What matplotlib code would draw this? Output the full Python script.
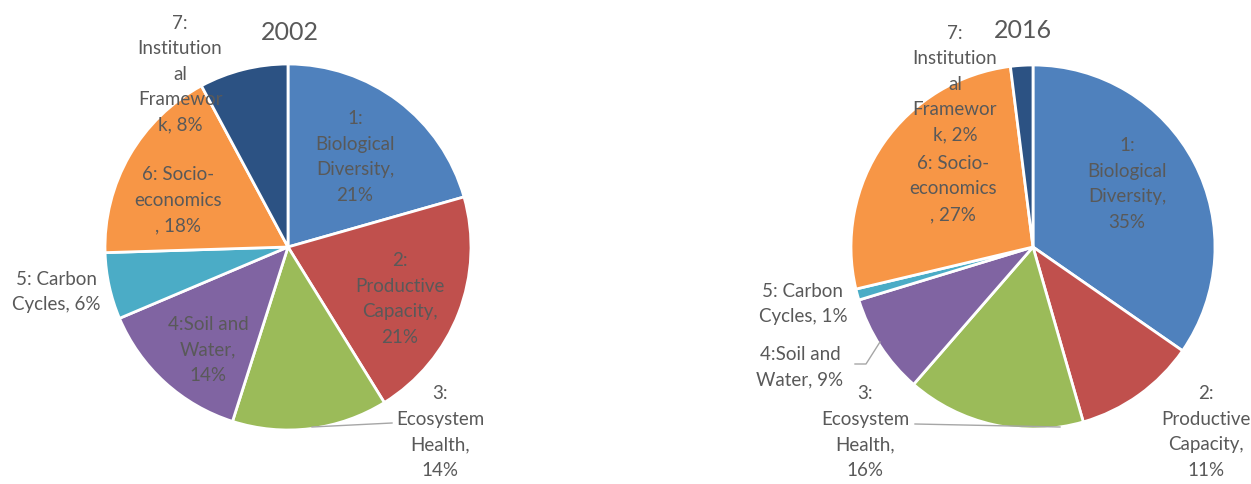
import matplotlib.pyplot as plt

plt.rcParams['font.family'] = ['Lato', 'DejaVu Sans']

# data
years = ['2002', '2016']
labels_2002 = ['1:\nBiological\nDiversity,\n21%', '2:\nProductive\nCapacity,\n21%',
               '3:\nEcosystem\nHealth,\n14%', '4:Soil and\nWater,\n14%',
               '5: Carbon\nCycles, 6%', '6: Socio-\neconomics\n, 18%',
               '7:\nInstitution\nal\nFramewor\nk, 8%']
values_2002 = [21, 21, 14, 14, 6, 18, 8]
labels_2016 = ['1:\nBiological\nDiversity,\n35%', '2:\nProductive\nCapacity,\n11%',
               '3:\nEcosystem\nHealth,\n16%', '4:Soil and\nWater, 9%',
               '5: Carbon\nCycles, 1%', '6: Socio-\neconomics\n, 27%',
               '7:\nInstitution\nal\nFramewor\nk, 2%']
values_2016 = [35, 11, 16, 9, 1, 27, 2]

colors = ['#4F81BD', '#C0504D', '#9BBB59', '#8064A2', '#4BACC6', '#F79646', '#2C5283']
text_col = '#595959'

W, H = 1251, 485
fig = plt.figure(figsize=(W / 100, H / 100), dpi=100)
ax = fig.add_axes([0, 0, 1, 1])

# layout in pixel coords (y from top)
pies = [
    dict(vals=values_2002, labs=labels_2002, title=years[0], c=(288, 248), r=183,
         title_xy=(290, 33),
         lab_xy=[(355, 157), (400, 299), (440, 432), (208, 350), (56, 292), (178, 200), (180, 74)],
         leaders=[[(312, 428), (392, 424)]]),
    dict(vals=values_2016, labs=labels_2016, title=years[1], c=(1033, 248), r=182,
         title_xy=(1023, 30),
         lab_xy=[(1127, 184), (1206, 432), (865, 432), (800, 367), (803, 304), (953, 189), (955, 84)],
         leaders=[[(915, 425), (1060, 428)], [(855, 365), (866, 365), (880, 343)]]),
]

for p in pies:
    cx, cy = p['c']
    ax.pie(p['vals'], colors=colors, startangle=90, counterclock=False,
           center=(cx, H - cy), radius=p['r'],
           wedgeprops=dict(edgecolor='white', linewidth=2))
    for lab, (x, y) in zip(p['labs'], p['lab_xy']):
        ax.text(x, H - y, lab, ha='center', va='center', fontsize=13.5,
                color=text_col, linespacing=1.6)
    for pts in p['leaders']:
        ax.plot([q[0] for q in pts], [H - q[1] for q in pts], color='#A6A6A6', lw=1)
    tx, ty = p['title_xy']
    ax.text(tx, H - ty, p['title'], ha='center', va='center', fontsize=18, color=text_col)

ax.set_xlim(0, W)
ax.set_ylim(0, H)
ax.set_aspect('auto')
ax.axis('off')

fig.savefig('out.png', dpi=100, facecolor='white')
